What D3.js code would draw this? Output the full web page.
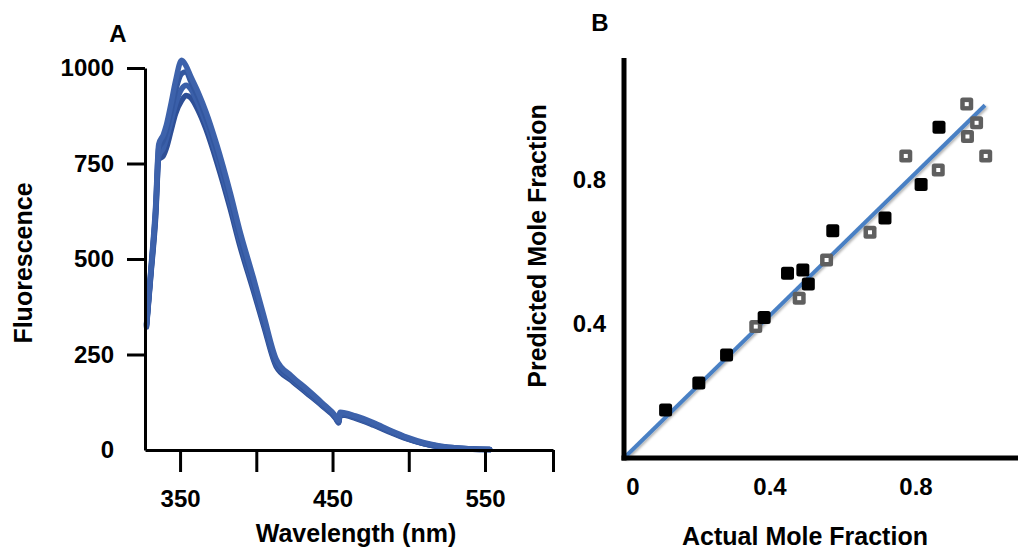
<!DOCTYPE html>
<html>
<head>
<meta charset="utf-8">
<script src="https://cdn.jsdelivr.net/npm/d3@7"></script>
<style>
  body { margin: 0; background: #fff; }
  svg { display: block; font-family: "Liberation Sans", Arial, sans-serif; font-weight: bold; }
</style>
</head>
<body>
<svg class="chart" width="1018" height="552"></svg>
<script>
// ---- panel A data: emission spectra ----
var wavelengths = [328, 331, 334, 336, 339, 341, 344, 347, 351, 354, 357, 362, 367, 374, 383, 389, 398, 405, 413, 423, 433, 443, 452, 454, 455, 465, 477, 488, 499, 510, 521, 532, 542, 553];
var spectrum1 = [330, 480, 640, 800, 825, 850, 905, 965, 1020, 1005, 978, 935, 885, 800, 672, 577, 452, 350, 238, 194, 160, 124, 89, 77, 99, 89, 71, 51, 33, 19, 10, 5, 3, 1];
var spectrum2 = [328, 475, 630, 790, 810, 835, 885, 940, 985, 990, 965, 922, 870, 786, 658, 563, 440, 340, 231, 190, 156, 121, 87, 75, 97, 87, 69, 49, 31, 17, 9, 5, 3, 1];
var spectrum3 = [325, 470, 620, 770, 790, 815, 860, 905, 945, 955, 945, 905, 855, 770, 644, 550, 428, 331, 225, 186, 152, 118, 85, 73, 94, 85, 67, 48, 30, 17, 8, 4, 2, 1];
var spectrum4 = [322, 465, 610, 760, 770, 790, 835, 880, 915, 928, 922, 888, 840, 755, 630, 538, 418, 323, 219, 182, 149, 116, 83, 71, 92, 83, 65, 46, 29, 16, 8, 4, 2, 1];
var fluorTicks = [0, 250, 500, 750, 1000];
var waveTicks = [350, 400, 450, 500, 550];
var waveLabels = [350, 450, 550];

// ---- panel B data: predicted vs actual ----
var actualBlack = [0.114, 0.205, 0.281, 0.384, 0.448, 0.49, 0.505, 0.572, 0.715, 0.814, 0.863];
var predBlack   = [0.133, 0.208, 0.286, 0.39, 0.513, 0.522, 0.483, 0.631, 0.667, 0.76, 0.919];
var actualGray  = [0.361, 0.48, 0.555, 0.674, 0.772, 0.861, 0.939, 0.966, 0.941, 0.991];
var predGray    = [0.365, 0.444, 0.55, 0.627, 0.839, 0.8, 0.983, 0.931, 0.893, 0.839];
var fitX = [0, 0.989];
var fitY = [0, 0.98];
var moleTicks = [0, 0.4, 0.8];

var svg = d3.select(".chart");
var FONT = "Liberation Sans, Arial, sans-serif";

// ================= Panel A =================
var xA = d3.scaleLinear().domain([327, 594.6]).range([145, 553]),
    yA = d3.scaleLinear().domain([0, 1000]).range([450, 68]);

var gA = svg.append("g").attr("class", "panelA");

var line = d3.line()
    .x(function(d) { return xA(d[0]); })
    .y(function(d) { return yA(d[1]); })
    .curve(d3.curveMonotoneX);

var spectra = [spectrum4, spectrum3, spectrum2, spectrum1];
var specColors = ["#2e4f96", "#3a5fa9", "#33579f", "#3d62ab"];

gA.selectAll(".spec")
    .data(spectra)
    .enter().append("path")
    .attr("class", "spec")
    .attr("fill", "none")
    .attr("stroke", function(d, i) { return specColors[i]; })
    .attr("stroke-width", 5.5)
    .attr("stroke-linejoin", "round")
    .attr("stroke-linecap", "round")
    .attr("d", function(s) { return line(wavelengths.map(function(w, i) { return [w, s[i]]; })); });

// y axis
var yAxisA = gA.append("g")
    .attr("transform", "translate(145,0)")
    .call(d3.axisLeft(yA).tickValues(fluorTicks).tickSizeInner(18).tickSizeOuter(0).tickPadding(13)
        .tickFormat(d3.format("d")));
yAxisA.select(".domain").attr("stroke", "#000").attr("stroke-width", 3);
yAxisA.selectAll(".tick line").attr("stroke", "#000").attr("stroke-width", 3)
    .attr("display", function(d) { return d === 0 ? "none" : null; });
yAxisA.selectAll(".tick text")
    .attr("font-size", 24).attr("font-weight", "bold")
    .attr("font-family", FONT).attr("fill", "#000");

// x axis
var xAxisA = gA.append("g")
    .attr("transform", "translate(0,450)")
    .call(d3.axisBottom(xA)
        .tickValues(waveTicks.concat([xA.domain()[1]]))
        .tickSizeInner(22).tickSizeOuter(0).tickPadding(18)
        .tickFormat(function(d) { return waveLabels.indexOf(d) >= 0 ? d : ""; }));
xAxisA.select(".domain").attr("stroke", "#000").attr("stroke-width", 3);
xAxisA.selectAll(".tick line").attr("stroke", "#000").attr("stroke-width", 3);
xAxisA.selectAll(".tick text")
    .attr("font-size", 24).attr("font-weight", "bold")
    .attr("font-family", FONT).attr("fill", "#000");

gA.append("text")
    .attr("x", 356).attr("y", 542)
    .attr("text-anchor", "middle")
    .attr("font-size", 25)
    .text("Wavelength (nm)");

gA.append("text")
    .attr("transform", "translate(32,263) rotate(-90)")
    .attr("text-anchor", "middle")
    .attr("font-size", 25)
    .text("Fluorescence");

gA.append("text")
    .attr("x", 118).attr("y", 42)
    .attr("text-anchor", "middle")
    .attr("font-size", 24)
    .text("A");

// ================= Panel B =================
var xB = d3.scaleLinear().domain([0, 1]).range([624, 989]),
    yB = d3.scaleLinear().domain([0, 1]).range([458, 98]);

var gB = svg.append("g").attr("class", "panelB");

// shadow filter for fit line
var defs = svg.append("defs");
var f = defs.append("filter").attr("id", "shadow").attr("x", "-10%").attr("y", "-10%").attr("width", "130%").attr("height", "130%");
f.append("feDropShadow").attr("dx", 1.5).attr("dy", 1.5).attr("stdDeviation", 1.2).attr("flood-color", "#000").attr("flood-opacity", 0.3);

gB.append("path")
    .datum(fitX.map(function(x, i) { return [x, fitY[i]]; }))
    .attr("fill", "none")
    .attr("stroke", "#4a80c4")
    .attr("stroke-width", 4)
    .attr("filter", "url(#shadow)")
    .attr("d", d3.line().x(function(d) { return xB(d[0]); }).y(function(d) { return yB(d[1]); }));

// axes (plain lines, no ticks)
gB.append("line")
    .attr("x1", xB(0)).attr("x2", xB(0))
    .attr("y1", 58).attr("y2", yB(0) + 2.5)
    .attr("stroke", "#000").attr("stroke-width", 5);
gB.append("line")
    .attr("x1", xB(0) - 2.5).attr("x2", 1018)
    .attr("y1", yB(0)).attr("y2", yB(0))
    .attr("stroke", "#000").attr("stroke-width", 5);

// gray open squares
var sq = 13;
var grayPts = actualGray.map(function(a, i) { return [a, predGray[i]]; });
var gg = gB.selectAll(".gray")
    .data(grayPts)
    .enter().append("g")
    .attr("class", "gray")
    .attr("transform", function(d) { return "translate(" + xB(d[0]) + "," + yB(d[1]) + ")"; });
gg.append("rect")
    .attr("x", -sq / 2).attr("y", -sq / 2).attr("width", sq).attr("height", sq)
    .attr("rx", 2.5).attr("fill", "#5f5f5f");
gg.append("rect")
    .attr("x", -2).attr("y", -2).attr("width", 4).attr("height", 4)
    .attr("fill", "#fff");

// black filled squares
var blackPts = actualBlack.map(function(a, i) { return [a, predBlack[i]]; });
gB.selectAll(".black")
    .data(blackPts)
    .enter().append("rect")
    .attr("class", "black")
    .attr("x", function(d) { return xB(d[0]) - sq / 2; })
    .attr("y", function(d) { return yB(d[1]) - sq / 2; })
    .attr("width", sq).attr("height", sq)
    .attr("rx", 2.5)
    .attr("fill", "#000");

// tick labels
gB.selectAll(".xlab")
    .data(moleTicks)
    .enter().append("text")
    .attr("class", "xlab")
    .attr("x", function(d) { return xB(d) + (d === 0 ? 9 : 0); })
    .attr("y", 495)
    .attr("text-anchor", "middle")
    .attr("font-size", 24)
    .text(function(d) { return d; });

gB.selectAll(".ylab")
    .data(moleTicks.filter(function(d) { return d > 0; }))
    .enter().append("text")
    .attr("class", "ylab")
    .attr("x", 606)
    .attr("y", function(d) { return yB(d) + 10; })
    .attr("dy", "0.35em")
    .attr("text-anchor", "end")
    .attr("font-size", 24)
    .text(function(d) { return d; });

gB.append("text")
    .attr("x", 805).attr("y", 545)
    .attr("text-anchor", "middle")
    .attr("font-size", 25)
    .text("Actual Mole Fraction");

gB.append("text")
    .attr("transform", "translate(546,246) rotate(-90)")
    .attr("text-anchor", "middle")
    .attr("font-size", 25)
    .text("Predicted Mole Fraction");

gB.append("text")
    .attr("x", 600).attr("y", 31)
    .attr("text-anchor", "middle")
    .attr("font-size", 24)
    .text("B");
</script>
</body>
</html>
